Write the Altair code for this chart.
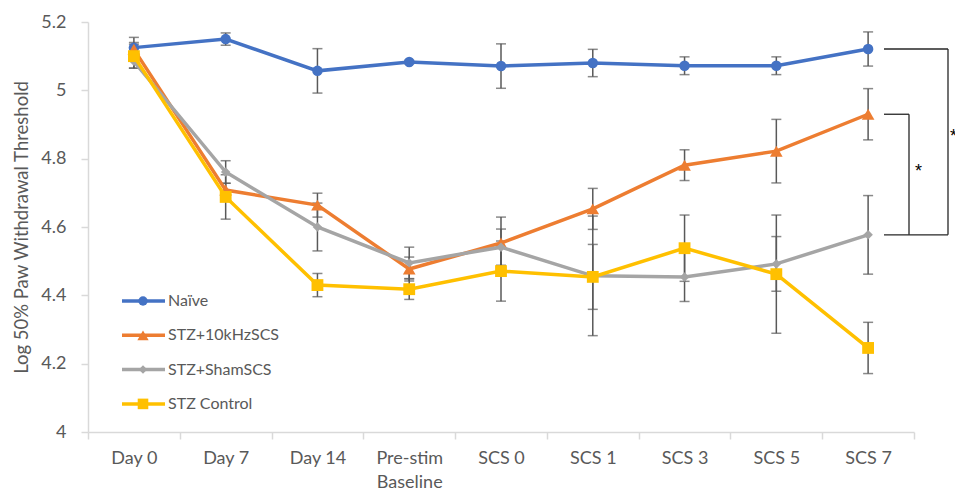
import altair as alt
import pandas as pd

categories = ["Day 0", "Day 7", "Day 14", "Pre-stim Baseline", "SCS 0",
              "SCS 1", "SCS 3", "SCS 5", "SCS 7"]
series_names = ["Naïve", "STZ+10kHzSCS", "STZ+ShamSCS", "STZ Control"]

naive = [5.125, 5.150, 5.057, 5.083, 5.071, 5.080, 5.072, 5.072, 5.121]
naive_err = [0.030, 0.018, 0.065, 0.005, 0.065, 0.040, 0.026, 0.026, 0.050]

khz = [5.120, 4.708, 4.664, 4.477, 4.553, 4.653, 4.781, 4.822, 4.930]
khz_err = [0.020, 0.020, 0.035, 0.035, 0.076, 0.060, 0.045, 0.093, 0.075]

sham = [5.085, 4.761, 4.600, 4.495, 4.541, 4.457, 4.454, 4.492, 4.577]
sham_err = [0.020, 0.033, 0.070, 0.046, 0.053, 0.175, 0.072, 0.080, 0.115]

control = [5.100, 4.688, 4.430, 4.418, 4.471, 4.454, 4.538, 4.462, 4.246]
control_err = [0.035, 0.065, 0.034, 0.030, 0.088, 0.095, 0.097, 0.173, 0.075]

y_ticks = [4.0, 4.2, 4.4, 4.6, 4.8, 5.0, 5.2]

colors = ["#4472C4", "#ED7D31", "#A5A5A5", "#FFC000"]
shapes = ["circle", "triangle-up", "diamond", "square"]
sizes = [110, 160, 90, 140]

values = [naive, khz, sham, control]
errors = [naive_err, khz_err, sham_err, control_err]

rows = []
for s, vals, errs in zip(series_names, values, errors):
    for c, v, e in zip(categories, vals, errs):
        rows.append({"cat": c, "series": s, "value": v, "lo": v - e, "hi": v + e})
df = pd.DataFrame(rows)

FONT = "Lato"
TXT = "#595959"
AX = "#D9D9D9"

x_axis = alt.Axis(
    title=None, tickBand="extent", domainColor=AX, domainWidth=1.5,
    tickColor=AX, tickWidth=1.5, tickSize=7, labelFont=FONT, labelFontSize=18,
    labelColor=TXT, labelPadding=10, labelAngle=0, labelLineHeight=24,
    labelExpr="datum.value == 'Pre-stim Baseline' ? ['Pre-stim', 'Baseline'] : datum.label",
)
x_scale = alt.Scale(type="band", domain=categories, paddingInner=0, paddingOuter=0)


def xenc(axis=False):
    if axis:
        return alt.X("cat:N", sort=categories, scale=x_scale, axis=x_axis, bandPosition=0.5)
    return alt.X("cat:N", sort=categories, scale=x_scale, bandPosition=0.5)


y_scale = alt.Scale(domain=[4.0, 5.2], nice=False, zero=False)
y_axis = alt.Axis(
    values=y_ticks, format=".1~f", grid=False, tickSize=7, tickColor=AX,
    tickWidth=1.5, domainColor=AX, domainWidth=1.5, labelFont=FONT,
    labelFontSize=18, labelColor=TXT, labelPadding=15,
    title="Log 50% Paw Withdrawal Threshold", titleFont=FONT, titleFontSize=18.5,
    titleFontWeight="normal", titleColor=TXT, titlePadding=9,
)

base = alt.Chart(df)

err_rule = base.mark_rule(color="#595959", strokeWidth=1.5).encode(
    x=xenc(True),
    y=alt.Y("lo:Q", scale=y_scale, axis=y_axis),
    y2="hi:Q",
)
err_lo = base.mark_tick(orient="horizontal", size=10, thickness=1.5, color="#595959").encode(
    x=xenc(), y=alt.Y("lo:Q", scale=y_scale))
err_hi = base.mark_tick(orient="horizontal", size=10, thickness=1.5, color="#595959").encode(
    x=xenc(), y=alt.Y("hi:Q", scale=y_scale))

layers = [err_rule, err_lo, err_hi]

for s, col, shp, sz in zip(series_names, colors, shapes, sizes):
    sub = alt.Chart(df[df["series"] == s])
    layers.append(sub.mark_line(color=col, strokeWidth=3.5).encode(
        x=xenc(), y=alt.Y("value:Q", scale=y_scale)))
    layers.append(sub.mark_point(filled=True, shape=shp, size=sz, color=col, opacity=1).encode(
        x=xenc(), y=alt.Y("value:Q", scale=y_scale)))

# legend (drawn inside the plot like the original)
one = pd.DataFrame({"k": [0]})
for i, (s, col, shp, sz) in enumerate(zip(series_names, colors, shapes, sizes)):
    yy = 279 + i * 34.3
    lc = alt.Chart(one)
    layers.append(lc.mark_rule(color=col, strokeWidth=3.5).encode(
        x=alt.value(34), x2=alt.value(77), y=alt.value(yy)))
    layers.append(lc.mark_point(filled=True, shape=shp, size=sz * 0.8, color=col, opacity=1).encode(
        x=alt.value(55), y=alt.value(yy)))
    layers.append(lc.mark_text(align="left", baseline="middle", font=FONT, fontSize=16, color=TXT).encode(
        x=alt.value(80), y=alt.value(yy), text=alt.value(s)))

# significance brackets
bc = alt.Chart(one)
BR = "#262626"
STAR_FONT = "Liberation Sans"
layers += [
    bc.mark_rule(color=BR, strokeWidth=1.3).encode(
        x=alt.value(796), x2=alt.value(860), y=alt.datum(naive[-1])),
    bc.mark_rule(color=BR, strokeWidth=1.3).encode(
        x=alt.value(860), y=alt.datum(naive[-1]), y2=alt.datum(sham[-1])),
    bc.mark_rule(color=BR, strokeWidth=1.3).encode(
        x=alt.value(796), x2=alt.value(860), y=alt.datum(sham[-1])),
    bc.mark_rule(color=BR, strokeWidth=1.3).encode(
        x=alt.value(796), x2=alt.value(821), y=alt.datum(khz[-1])),
    bc.mark_rule(color=BR, strokeWidth=1.3).encode(
        x=alt.value(821), y=alt.datum(khz[-1]), y2=alt.datum(sham[-1])),
    bc.mark_text(align="left", baseline="alphabetic", font=STAR_FONT, fontSize=18,
                 color="#000000", dy=2).encode(
        x=alt.value(827), y=alt.datum((khz[-1] + sham[-1]) / 2), text=alt.value("*")),
    bc.mark_text(align="left", baseline="alphabetic", font=STAR_FONT, fontSize=18,
                 color="#000000", dy=0).encode(
        x=alt.value(862), y=alt.datum((naive[-1] + sham[-1]) / 2), text=alt.value("**")),
]

chart = alt.layer(*layers).properties(
    width=826, height=410,
    autosize=alt.AutoSizeParams(type="none"),
    padding={"left": 80, "top": 14, "right": 41, "bottom": 58},
    background="white",
).configure_view(strokeWidth=0)

chart.save("out.html", embed_options={"renderer": "svg", "actions": False})
